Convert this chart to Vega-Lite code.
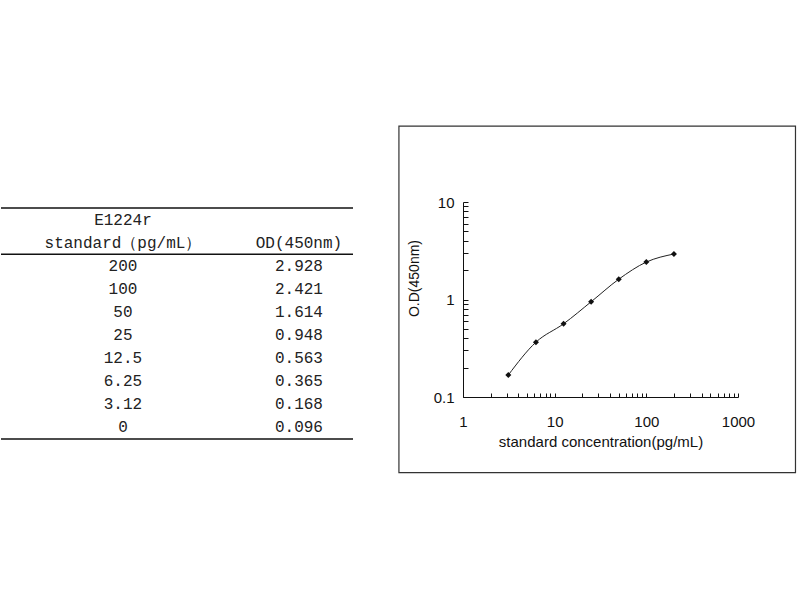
{
  "$schema": "https://vega.github.io/schema/vega-lite/v6.json",
  "description": "ELISA standard table and standard curve (log-log).",
  "background": "white",
  "padding": {"top": 125, "left": 0, "right": 0, "bottom": 0},
  "config": {
    "font": "Liberation Sans",
    "view": {"stroke": null},
    "concat": {"spacing": 44}
  },
  "datasets": {
    "table": [
      {"row": 1, "standard": "E1224r", "od": ""},
      {"row": 2, "standard": "standard（pg/mL）", "od": "OD(450nm)"},
      {"row": 3, "standard": "200", "od": "2.928"},
      {"row": 4, "standard": "100", "od": "2.421"},
      {"row": 5, "standard": "50", "od": "1.614"},
      {"row": 6, "standard": "25", "od": "0.948"},
      {"row": 7, "standard": "12.5", "od": "0.563"},
      {"row": 8, "standard": "6.25", "od": "0.365"},
      {"row": 9, "standard": "3.12", "od": "0.168"},
      {"row": 10, "standard": "0", "od": "0.096"}
    ],
    "curve": [
      {"conc": 200, "od": 2.928},
      {"conc": 100, "od": 2.421},
      {"conc": 50, "od": 1.614},
      {"conc": 25, "od": 0.948},
      {"conc": 12.5, "od": 0.563},
      {"conc": 6.25, "od": 0.365},
      {"conc": 3.12, "od": 0.168}
    ]
  },
  "hconcat": [
    {
      "width": 352,
      "height": 243,
      "data": {"name": "table"},
      "encoding": {
        "y": {
          "field": "row",
          "type": "ordinal",
          "axis": null,
          "scale": {
            "type": "band",
            "domain": [1, 2, 3, 4, 5, 6, 7, 8, 9, 10],
            "paddingInner": 0,
            "paddingOuter": 0.26
          }
        }
      },
      "layer": [
        {
          "mark": {"type": "text", "font": "Liberation Mono", "fontSize": 16, "color": "#222"},
          "encoding": {
            "x": {
              "datum": "standard",
              "type": "ordinal",
              "axis": null,
              "scale": {"type": "point", "domain": ["standard", "od"], "padding": 0.5, "align": 0.693}
            },
            "text": {"field": "standard"}
          }
        },
        {
          "mark": {"type": "text", "font": "Liberation Mono", "fontSize": 16, "color": "#222"},
          "encoding": {
            "x": {"datum": "od", "type": "ordinal"},
            "text": {"field": "od"}
          }
        },
        {
          "transform": [{"filter": "datum.row == 1 || datum.row == 3"}],
          "mark": {"type": "rule", "color": "#111", "strokeWidth": 1.5},
          "encoding": {
            "y": {"field": "row", "type": "ordinal", "bandPosition": 0}
          }
        },
        {
          "transform": [{"filter": "datum.row == 10"}],
          "mark": {"type": "rule", "color": "#111", "strokeWidth": 1.5},
          "encoding": {
            "y": {"field": "row", "type": "ordinal", "bandPosition": 1}
          }
        }
      ]
    },
    {
      "width": 275,
      "height": 195,
      "encoding": {
        "x": {
          "field": "conc",
          "type": "quantitative",
          "scale": {"type": "log", "domain": [1, 1000], "nice": false},
          "axis": {
            "title": "standard concentration(pg/mL)",
            "titleFontSize": 15,
            "titleFontWeight": "normal",
            "titleColor": "#111",
            "titlePadding": 5,
            "values": [1, 2, 3, 4, 5, 6, 7, 8, 9, 10, 20, 30, 40, 50, 60, 70, 80, 90, 100, 200, 300, 400, 500, 600, 700, 800, 900, 1000],
            "labelExpr": "indexof([1, 10, 100, 1000], datum.value) >= 0 ? format(datum.value, 'd') : ''",
            "labelFontSize": 15,
            "labelColor": "#111",
            "labelPadding": 21,
            "labelFlush": false,
            "labelOverlap": false,
            "tickSize": -4,
            "tickColor": "#111",
            "domainColor": "#111",
            "grid": false
          }
        },
        "y": {
          "field": "od",
          "type": "quantitative",
          "scale": {"type": "log", "domain": [0.1, 10], "nice": false},
          "axis": {
            "title": "O.D(450nm)",
            "titleFontSize": 14,
            "titleFontWeight": "normal",
            "titleColor": "#111",
            "titlePadding": 12,
            "titleY": 76,
            "values": [0.1, 0.2, 0.3, 0.4, 0.5, 0.6, 0.7, 0.8, 0.9, 1, 2, 3, 4, 5, 6, 7, 8, 9, 10],
            "labelExpr": "indexof([0.1, 1, 10], datum.value) >= 0 ? format(datum.value, '~g') : ''",
            "labelFontSize": 15,
            "labelColor": "#111",
            "labelPadding": 14,
            "labelFlush": false,
            "labelOverlap": false,
            "tickSize": -5,
            "tickColor": "#111",
            "domainColor": "#111",
            "grid": false
          }
        }
      },
      "layer": [
        {
          "data": {"values": [{"conc": 0.2, "conc2": 4238, "od": 0.0168, "od2": 60.1}]},
          "mark": {"type": "rect", "filled": false, "stroke": "#333", "strokeWidth": 1.2, "clip": false},
          "encoding": {
            "x2": {"field": "conc2"},
            "y2": {"field": "od2"}
          }
        },
        {
          "data": {"name": "curve"},
          "mark": {"type": "line", "interpolate": "monotone", "color": "#222", "strokeWidth": 1}
        },
        {
          "data": {"name": "curve"},
          "mark": {"type": "point", "shape": "diamond", "filled": true, "size": 36, "color": "#111", "opacity": 1}
        }
      ]
    }
  ]
}
